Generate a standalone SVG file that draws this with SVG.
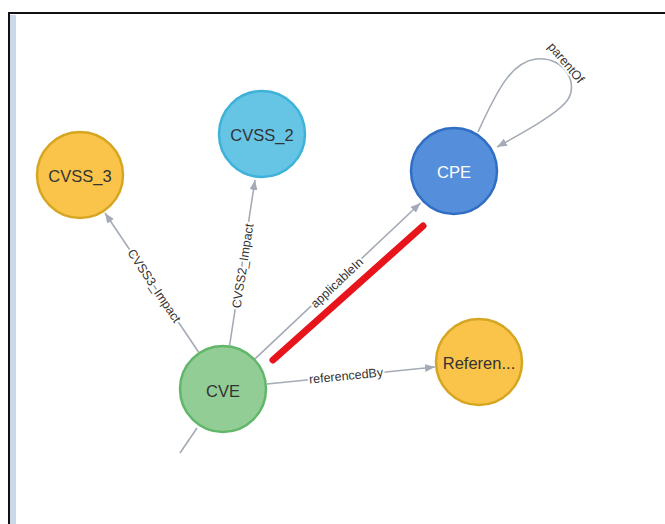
<svg xmlns="http://www.w3.org/2000/svg" width="665" height="524" viewBox="0 0 665 524">
<defs>
<style>
.edge{stroke:#A5ABB6;stroke-width:1.6;fill:none}
.elabel{font-family:"Liberation Sans",Arial,sans-serif;font-size:12.5px;fill:#333;text-anchor:middle;dominant-baseline:central}
.halo{stroke:#fff;stroke-width:4;stroke-linejoin:round;paint-order:stroke}
.nlabel{font-family:"Liberation Sans",Arial,sans-serif;font-size:16.5px;fill:#333;text-anchor:middle;dominant-baseline:central}
</style>
<marker id="arr" viewBox="0 0 10 8" refX="10" refY="4" markerWidth="10" markerHeight="8" markerUnits="userSpaceOnUse" orient="auto">
<path d="M0,0 L10,4 L0,8 Z" fill="#A5ABB6"/>
</marker>
</defs>
<rect x="0" y="0" width="665" height="524" fill="#fff"/>
<rect x="10" y="15" width="6" height="509" fill="#CCD7E9"/>
<path d="M9,524 V13 H665" fill="none" stroke="#111" stroke-width="2"/>

<g id="connectors">
<line class="edge" x1="198.5" y1="352" x2="105" y2="213" marker-end="url(#arr)"/>
<line class="edge" x1="229.6" y1="345.5" x2="255" y2="180" marker-end="url(#arr)"/>
<line class="edge" x1="255" y1="358.8" x2="420.5" y2="203" marker-end="url(#arr)"/>
<line class="edge" x1="267" y1="384" x2="435" y2="367" marker-end="url(#arr)"/>
<line class="edge" x1="197" y1="428" x2="180" y2="453"/>
<path class="edge" d="M478,132 C498,88 512,62 536,59 C566,56 580,86 566,102 C556,114 528,130 497,147" marker-end="url(#arr)"/>
<text class="elabel halo" transform="translate(154,286) rotate(56.2)">CVSS3_Impact</text>
<text class="elabel halo" transform="translate(243,266) rotate(-81.3)">CVSS2_Impact</text>
<text class="elabel halo" transform="translate(337,283) rotate(-43.3)">applicableIn</text>
<text class="elabel halo" transform="translate(346,376) rotate(-5.5)">referencedBy</text>
<text class="elabel halo" transform="translate(566,63) rotate(50)">parentOf</text>
<line x1="273" y1="360" x2="423" y2="226" stroke="#E8141C" stroke-width="7" stroke-linecap="round"/>
</g>

<g id="node-cvss3">
<circle cx="80" cy="175" r="43" fill="#F9C449" stroke="#D6A622" stroke-width="2.5"/>
<text class="nlabel" x="80" y="176">CVSS_3</text>
</g>
<g id="node-cvss2">
<circle cx="262" cy="134" r="43" fill="#66C4E5" stroke="#3EB2D9" stroke-width="2.5"/>
<text class="nlabel" x="262" y="135">CVSS_2</text>
</g>
<g id="node-cpe">
<circle cx="454" cy="171" r="43" fill="#558EDB" stroke="#2F6EC4" stroke-width="2.5"/>
<text class="nlabel" x="454" y="172" style="fill:#fff">CPE</text>
</g>
<g id="node-reference">
<circle cx="479" cy="362" r="43" fill="#F9C449" stroke="#D6A622" stroke-width="2.5"/>
<text class="nlabel" x="479" y="363">Referen...</text>
</g>
<g id="node-cve">
<circle cx="223" cy="389" r="43" fill="#92CD96" stroke="#62B66A" stroke-width="2.5"/>
<text class="nlabel" x="223" y="391">CVE</text>
</g>
</svg>
